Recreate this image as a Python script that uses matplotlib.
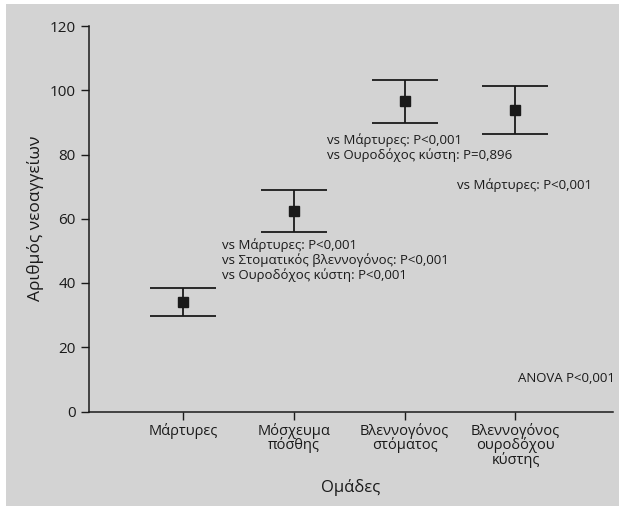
import matplotlib
matplotlib.use("Agg")
import matplotlib.pyplot as plt
from matplotlib.patches import Rectangle

plt.rcParams['font.family'] = ['Open Sans', 'DejaVu Sans']

groups = ['Μάρτυρες', 'Μόσχευμα\nπόσθης', 'Βλεννογόνος\nστόματος',
          'Βλεννογόνος\nουροδόχου\nκύστης']
means = [34.0, 62.5, 96.5, 93.8]
errs = [4.3, 6.5, 6.6, 7.4]

# annotation text: (x, y, text)
notes = [
    (1.35, 51.9, 'vs Μάρτυρες: P<0,001'),
    (1.35, 47.2, 'vs Στοματικός βλεννογόνος: P<0,001'),
    (1.35, 42.5, 'vs Ουροδόχος κύστη: P<0,001'),
    (2.30, 84.6, 'vs Μάρτυρες: P<0,001'),
    (2.30, 79.9, 'vs Ουροδόχος κύστη: P=0,896'),
    (3.47, 70.6, 'vs Μάρτυρες: P<0,001'),
]
anova = 'ANOVA P<0,001'

fig = plt.figure(figsize=(6.21, 5.08), dpi=100)
fig.patch.set_facecolor('white')
fig.patches.append(Rectangle((6 / 621, 2 / 508), 613 / 621, 502 / 508,
                             transform=fig.transFigure, facecolor='#d3d3d3',
                             edgecolor='none', zorder=-10))

ax = fig.add_axes([89 / 621, 1 - 411.5 / 508, 524 / 621, 385.5 / 508])
ax.set_facecolor('none')

x = list(range(1, len(groups) + 1))
ax.errorbar(x, means, yerr=errs, fmt='s', color='#1a1a1a', ms=7,
            capsize=24, elinewidth=1.3, capthick=1.3)

for nx, ny, txt in notes:
    ax.text(nx, ny, txt, fontsize=9.5, va='center', ha='left', color='#1a1a1a')
ax.text(4.90, 10.4, anova, fontsize=9.5, va='center', ha='right',
        color='#1a1a1a', clip_on=False)

ax.set_xlim(0.153, 4.88)
ax.set_ylim(0, 120)
ax.set_yticks([0, 20, 40, 60, 80, 100, 120])
ax.set_xticks(x)
ax.set_xticklabels(groups, fontsize=10.5, linespacing=0.9)
ax.tick_params(axis='y', labelsize=11, length=6, width=1, colors='#1a1a1a')
ax.tick_params(axis='x', length=6, width=1, pad=2, colors='#1a1a1a')
for s in ['top', 'right']:
    ax.spines[s].set_visible(False)
for s in ['left', 'bottom']:
    ax.spines[s].set_linewidth(1.1)
    ax.spines[s].set_color('#1a1a1a')

ax.set_xlabel('Ομάδες', fontsize=12, labelpad=8, color='#1a1a1a')
ax.set_ylabel('Αριθμός νεοαγγείων', fontsize=12.5, labelpad=4, color='#1a1a1a')

fig.savefig('out.png', dpi=100)
